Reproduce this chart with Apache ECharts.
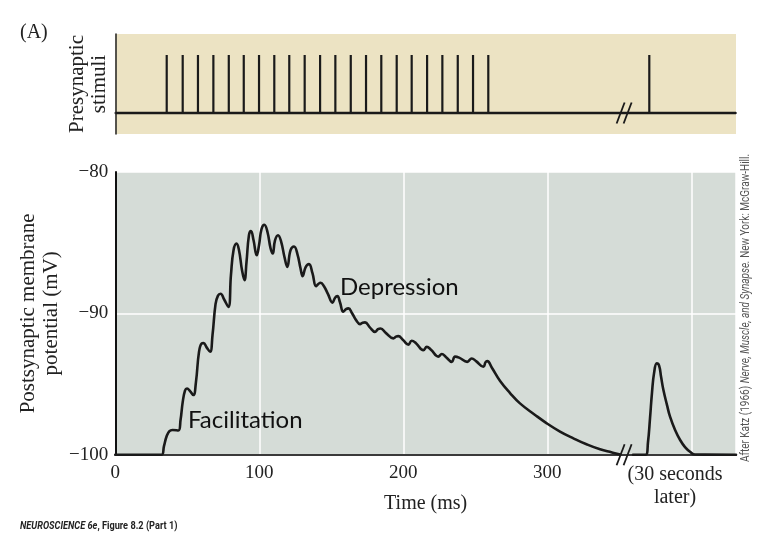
<!DOCTYPE html>
<html><head><meta charset="utf-8">
<script src="https://cdn.jsdelivr.net/npm/echarts@6/dist/echarts.min.js"></script>
<style>html,body{margin:0;padding:0;background:#fff}#c{width:772px;height:535px}</style>
</head><body><div id="c"></div>
<script>
// ---- data ----
const xTickValues = [0, 100, 200, 300];
const yTickValues = [-100, -90, -80];
const stimulusTimes = [35.7, 46.8, 57.4, 68.1, 78.8, 89.2, 99.8, 110.4, 120.8, 131.5, 142.2, 152.8, 163.5, 174.1, 184.7, 195.4, 205.8, 216.5, 227.1, 237.8, 248.4, 259.0];
const testStimulusTimes = [370.8];
const breakTime = 353.3;
const timeMs = [0, 32.2, 33.8, 35.7, 37.6, 39.7, 43.8, 45.3, 46.8, 48.4,
  49.8, 51.9, 54.2, 56.0, 58.1, 59.9, 61.3, 63.3, 65.8, 67.5,
  69.6, 71.3, 73.1, 75.5, 78.5, 80.3, 82.1, 84.2, 85.9, 88.0,
  89.7, 91.1, 92.8, 94.2, 96.0, 98.2, 99.8, 101.5, 103.5, 105.7,
  107.8, 109.3, 110.9, 113.0, 115.1, 117.5, 119.4, 121.7, 124.1, 126.5,
  128.6, 130.1, 132.1, 134.5, 136.9, 139.4, 140.8, 142.6, 144.9, 147.7,
  150.8, 152.6, 154.2, 156.0, 158.3, 160.2, 161.9, 164.4, 167.2, 169.9,
  171.7, 173.4, 176.9, 180.3, 182.4, 184.2, 188.0, 193.1, 194.9, 196.5,
  199.8, 203.5, 205.8, 208.8, 213.9, 216.3, 219.2, 224.3, 226.7, 229.7,
  233.6, 235.9, 238.7, 244.4, 247.5, 250.5, 255.6, 257.1, 258.3, 261.6,
  267.2, 274.1, 281.0, 291.5, 299.6, 308.8, 318.1, 327.6, 336.6, 344.9, 350.5,
  353.3,
  359.5, 368.3, 369.9, 371.3, 372.7, 374.1, 376.0, 377.6, 379.0, 380.6, 383.1, 385.2, 388.7, 392.2, 395.6, 399.1, 402.6, 431];
const potentialMv = [-100, -100, -99.39, -98.68, -98.33, -98.25, -98.29, -97.55, -96.28, -95.46,
  -95.32, -95.50, -95.78, -94.86, -92.74, -92.14, -92.11, -92.39, -92.72, -91.54,
  -89.35, -88.75, -88.61, -89.0, -89.54, -87.30, -85.53, -85.07, -85.53, -86.95,
  -87.65, -86.38, -84.47, -84.17, -84.83, -85.89, -85.18, -84.05, -83.73, -84.26,
  -85.39, -85.77, -84.83, -84.47, -84.90, -86.03, -86.71, -85.53, -85.27, -85.82,
  -86.81, -87.37, -86.74, -86.52, -87.16, -88.08, -87.94, -87.83, -88.08, -88.64,
  -89.24, -88.89, -88.78, -89.21, -89.88, -89.70, -89.65, -89.99, -90.48, -90.76,
  -90.66, -90.64, -91.01, -91.31, -91.12, -91.07, -91.40, -91.77, -91.65, -91.61,
  -91.89, -92.21, -91.94, -92.11, -92.60, -92.37, -92.57, -93.06, -92.88, -93.10,
  -93.43, -93.06, -93.13, -93.43, -93.19, -93.38, -93.78, -93.45, -93.38, -93.87,
  -94.79, -95.64, -96.37, -97.19, -97.78, -98.36, -98.84, -99.28, -99.62, -99.84, -99.99,
  null,
  -100, -100, -99.10, -97.41, -95.57, -94.23, -93.54, -93.70, -94.51, -95.43, -96.49, -97.31, -98.25, -98.96, -99.46, -99.79, -99.99, -100];
const stimulusBase = 0;
const stimulusPeak = 1;

// ---- chart ----
const chart = echarts.init(document.getElementById('c'), null, {renderer: 'canvas'});
const serif = 'Liberation Serif';
const ink = '#1a1a1a';
const curveData = timeMs.map((t, i) => [t, potentialMv[i]]);
const minus = v => (v < 0 ? '\u2212' + Math.abs(v) : String(v));

function breakMark(params, api) {
  const c = api.coord([api.value(0), api.value(1)]);
  const st = {stroke: ink, lineWidth: 1.8};
  return {type: 'group', children: [
    {type: 'line', shape: {x1: c[0] - 7.5, y1: c[1] + 10.5, x2: c[0] + 0.5, y2: c[1] - 10.5}, style: st},
    {type: 'line', shape: {x1: c[0] - 0.5, y1: c[1] + 10.5, x2: c[0] + 7.5, y2: c[1] - 10.5}, style: st}
  ]};
}

const option = {
  animation: false,
  backgroundColor: '#ffffff',
  grid: [
    {left: 115.3, top: 34, width: 620.7, height: 100, show: true, backgroundColor: '#ece3c3', borderWidth: 0, outerBoundsMode: 'none', containLabel: false},
    {left: 115.3, top: 172, width: 620.7, height: 282.7, show: true, backgroundColor: '#d5dcd7', borderWidth: 0, outerBoundsMode: 'none', containLabel: false}
  ],
  xAxis: [
    {gridIndex: 0, type: 'value', min: 0, max: 431,
      axisLine: {show: true, lineStyle: {color: '#4a4a4a', width: 2}},
      axisTick: {show: false}, axisLabel: {show: false}, splitLine: {show: false}},
    {gridIndex: 1, type: 'value', min: 0, max: 431, interval: 100,
      axisLine: {show: true, onZero: false, lineStyle: {color: '#3a3a3a', width: 2}},
      axisTick: {show: false},
      axisLabel: {formatter: v => (xTickValues.includes(v) ? String(v) : ''), fontFamily: serif, fontSize: 19, color: '#222', margin: 9, showMaxLabel: false, hideOverlap: false},
      splitLine: {show: true, lineStyle: {color: '#ffffff', width: 1.5}},
      name: 'Time (ms)', nameLocation: 'middle', nameGap: 39, nameMoveOverlap: false,
      nameTextStyle: {fontFamily: serif, fontSize: 20, color: '#222'}}
  ],
  yAxis: [
    {gridIndex: 0, type: 'value', min: -0.362, max: 1.362,
      axisLine: {show: true, lineStyle: {color: '#222', width: 1.5}},
      axisTick: {show: false}, axisLabel: {show: false}, splitLine: {show: false},
      name: 'Presynaptic\nstimuli', nameLocation: 'middle', nameRotate: 90, nameGap: 5, nameMoveOverlap: false,
      nameTextStyle: {fontFamily: serif, fontSize: 21, lineHeight: 22, color: '#222'}},
    {gridIndex: 1, type: 'value', min: -100, max: -80, interval: 10,
      axisLine: {show: true, onZero: false, lineStyle: {color: '#111', width: 2}},
      axisTick: {show: false},
      axisLabel: {formatter: v => (yTickValues.includes(v) ? minus(v) : ''), fontFamily: serif, fontSize: 19, color: '#222', margin: 7},
      splitLine: {show: true, lineStyle: {color: '#ffffff', width: 1.5}},
      name: 'Postsynaptic membrane\npotential (mV)', nameLocation: 'middle', nameRotate: 90, nameGap: 52, nameMoveOverlap: false,
      nameTextStyle: {fontFamily: serif, fontSize: 21, lineHeight: 23, color: '#222'}}
  ],
  series: [
    {type: 'line', xAxisIndex: 0, yAxisIndex: 0, data: [[0, stimulusBase], [431, stimulusBase]],
      symbol: 'none', lineStyle: {color: ink, width: 2.6}, z: 3},
    {type: 'custom', xAxisIndex: 0, yAxisIndex: 0, z: 4,
      data: stimulusTimes.concat(testStimulusTimes).map(t => [t, stimulusPeak]),
      encode: {x: 0, y: 1},
      renderItem: (params, api) => {
        const p0 = api.coord([api.value(0), stimulusBase]);
        const p1 = api.coord([api.value(0), api.value(1)]);
        return {type: 'line', shape: {x1: p0[0], y1: p0[1], x2: p1[0], y2: p1[1]}, style: {stroke: ink, lineWidth: 2.2}};
      }},
    {type: 'custom', xAxisIndex: 0, yAxisIndex: 0, z: 5, data: [[breakTime, stimulusBase]], encode: {x: 0, y: 1}, renderItem: breakMark},
    {type: 'line', xAxisIndex: 1, yAxisIndex: 1, data: curveData, clip: false,
      symbol: 'none', smooth: 0.45, connectNulls: false,
      lineStyle: {color: ink, width: 2.6, join: 'round', cap: 'round'}, z: 3},
    {type: 'custom', xAxisIndex: 1, yAxisIndex: 1, z: 5, data: [[breakTime, -100]], encode: {x: 0, y: 1}, renderItem: breakMark}
  ],
  graphic: [
    {type: 'text', x: 20, y: 33, style: {text: '(A)', font: '20px "Liberation Serif"', fill: '#222', align: 'left', verticalAlign: 'middle', textAlign: 'left', textVerticalAlign: 'middle'}},
    {type: 'text', x: 675, y: 463, style: {text: '(30 seconds\nlater)', font: '20px "Liberation Serif"', lineHeight: 23, fill: '#222', align: 'center', verticalAlign: 'top', textAlign: 'center', textVerticalAlign: 'top'}},
    {type: 'text', x: 188, y: 420, z: 10, style: {text: 'Facilitation', font: '24px Lato', fill: '#111', align: 'left', verticalAlign: 'middle', textAlign: 'left', textVerticalAlign: 'middle'}},
    {type: 'text', x: 340, y: 287, z: 10, style: {text: 'Depression', font: '24px Lato', fill: '#111', align: 'left', verticalAlign: 'middle', textAlign: 'left', textVerticalAlign: 'middle'}},
    {type: 'text', x: 746, y: 308, rotation: Math.PI / 2, scaleX: 0.8,
      style: {text: '{n|After Katz (1966) }{i|Nerve, Muscle, and Synapse.}{n| New York: McGraw-Hill.}',
        rich: {n: {fontFamily: 'Roboto', fontSize: 12.5, fill: '#555'}, i: {fontFamily: 'Roboto', fontSize: 12.5, fontStyle: 'italic', fill: '#555'}},
        align: 'center', verticalAlign: 'middle', textAlign: 'center', textVerticalAlign: 'middle'}},
    {type: 'text', x: 20, y: 526, scaleX: 0.8,
      style: {text: '{b|NEUROSCIENCE 6e}{r|, Figure 8.2 (Part 1)}',
        rich: {b: {fontFamily: 'Roboto', fontSize: 11.5, fontStyle: 'italic', fontWeight: 'bold', fill: '#222'}, r: {fontFamily: 'Roboto', fontSize: 11.5, fontWeight: 'bold', fill: '#222'}},
        align: 'left', verticalAlign: 'middle', textAlign: 'left', textVerticalAlign: 'middle'}}
  ]
};
chart.setOption(option);
</script>
</body></html>
